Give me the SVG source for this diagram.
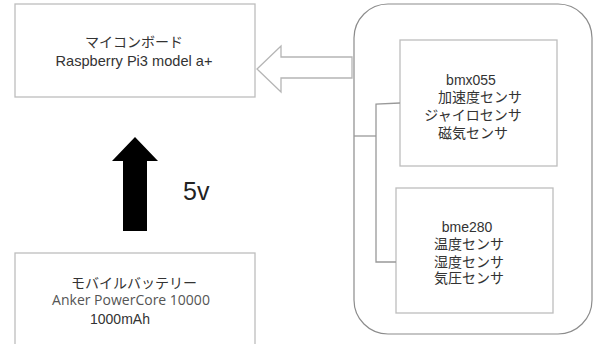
<svg xmlns="http://www.w3.org/2000/svg" width="593" height="344" viewBox="0 0 593 344">
<style>
.box{fill:#fff;stroke:#bdbdbd;stroke-width:1.3}
.grp{fill:#fff;stroke:#8c8c8c;stroke-width:1.2}
.t{font-family:"Liberation Sans","Noto Sans CJK JP",sans-serif;font-size:14px;fill:#333;text-anchor:middle}
.conn{fill:none;stroke:#999;stroke-width:1.3}
</style>
<rect width="593" height="344" fill="#fff"/>
<g id="mcu">
<rect class="box" x="15" y="4" width="240" height="93"/>
<text class="t" x="134" y="47">マイコンボード</text>
<text class="t" x="134" y="66" style="font-size:14.6px">Raspberry Pi3 model a+</text>
</g>
<g id="battery">
<rect class="box" x="15" y="253" width="240" height="100"/>
<text class="t" x="134" y="288">モバイルバッテリー</text>
<text class="t" x="131" y="305" style="font-family:'Open Sans','Noto Sans CJK JP',sans-serif;font-size:14px;fill:#555">Anker PowerCore 10000</text>
<text class="t" x="90" y="324" style="text-anchor:start">1000mAh</text>
</g>
<g id="sensors">
<rect class="grp" x="354" y="4" width="238" height="330" rx="34" ry="34"/>
</g>
<g id="bmx055">
<rect class="box" x="400" y="40" width="157" height="126"/>
<text class="t" x="471" y="85">bmx055</text>
<text class="t" x="480" y="102">加速度センサ</text>
<text class="t" x="473" y="120">ジャイロセンサ</text>
<text class="t" x="473" y="138">磁気センサ</text>
</g>
<g id="bme280">
<rect class="box" x="396" y="188" width="157" height="125"/>
<text class="t" x="467" y="232">bme280</text>
<text class="t" x="469" y="249">温度センサ</text>
<text class="t" x="469" y="267">湿度センサ</text>
<text class="t" x="469" y="283">気圧センサ</text>
</g>
<g id="connectors">
<polyline class="conn" points="354,136 376,136"/>
<polyline class="conn" points="400,103 376,104 376,262 396,262"/>
<polygon points="352,57 281,57 281,46 257,69 281,92 281,78 352,78" fill="#fff" stroke="#b5b5b5" stroke-width="1.3"/>
<polygon points="123,231 123,161 112,161 135,137 158,161 147,161 147,231" fill="#000"/>
</g>
<text x="183" y="200" style="font-family:'Liberation Sans',sans-serif;font-size:25px;fill:#222">5v</text>
</svg>
